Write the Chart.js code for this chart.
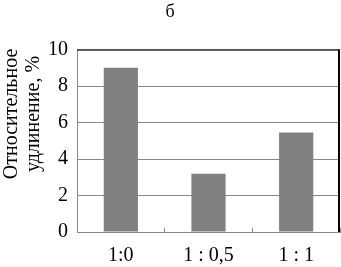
<!DOCTYPE html>
<html>
<head>
<meta charset="utf-8">
<script src="https://cdn.jsdelivr.net/npm/chart.js@4/dist/chart.umd.min.js"></script>
<style>
html,body{margin:0;padding:0;background:#fff;}
#wrap{width:341px;height:267px;position:relative;}
</style>
</head>
<body>
<div id="wrap"><canvas id="c" width="341" height="267"></canvas></div>
<script>
const categories = ['1:0', '1 : 0,5', '1 : 1'];
const values = [9.0, 3.2, 5.45];
const yTicks = [0, 2, 4, 6, 8, 10];
const chartTitle = 'б';
const yTitleLines = ['Относительное', 'удлинение, %'];

const FONT = '"Liberation Serif", "Times New Roman", serif';

const framePlugin = {
  id: 'frame',
  afterDraw(chart) {
    const ctx = chart.ctx, a = chart.chartArea;
    ctx.save();
    ctx.strokeStyle = '#000';
    ctx.lineWidth = 1;
    ctx.beginPath();
    ctx.moveTo(a.left, a.top + 0.5);
    ctx.lineTo(a.right, a.top + 0.5);
    ctx.stroke();
    ctx.lineWidth = 2;
    ctx.beginPath();
    ctx.moveTo(a.right - 1, a.top);
    ctx.lineTo(a.right - 1, a.bottom);
    ctx.stroke();
    // y axis title
    ctx.fillStyle = '#000';
    ctx.font = '20px ' + FONT;
    ctx.textAlign = 'center';
    ctx.textBaseline = 'middle';
    ctx.translate(0, 114);
    ctx.rotate(-Math.PI / 2);
    ctx.fillText(yTitleLines[0], 0, 12);
    ctx.fillText(yTitleLines[1], 0, 34);
    ctx.restore();
  }
};

new Chart(document.getElementById('c'), {
  type: 'bar',
  data: {
    labels: categories,
    datasets: [{
      data: values,
      backgroundColor: '#808080',
      borderWidth: 0,
      barPercentage: 0.39,
      categoryPercentage: 1.0
    }]
  },
  options: {
    responsive: false,
    animation: false,
    devicePixelRatio: 1,
    layout: { padding: { left: 0, right: 1, top: 0, bottom: 0 } },
    plugins: {
      legend: { display: false },
      tooltip: { enabled: false },
      title: {
        display: true,
        text: chartTitle,
        color: '#000',
        font: { family: FONT, size: 18, weight: 'normal' },
        padding: { top: 1, bottom: 27 }
      }
    },
    scales: {
      x: {
        offset: true,
        grid: { display: true, drawOnChartArea: false, drawTicks: true, tickLength: -4, color: '#888', offset: true },
        border: { color: '#888', width: 1 },
        ticks: { color: '#000', font: { family: FONT, size: 20 }, padding: 16 },
        afterFit(s) { s.height = 35; }
      },
      y: {
        min: 0,
        max: 10,
        afterBuildTicks(s) { s.ticks = yTicks.map(v => ({ value: v })); },
        grid: { color: '#888', drawTicks: false },
        border: { color: '#888', width: 1 },
        ticks: { color: '#000', font: { family: FONT, size: 20 }, padding: 9 },
        afterFit(s) { s.width = 77; }
      }
    }
  },
  plugins: [framePlugin]
});
</script>
</body>
</html>
